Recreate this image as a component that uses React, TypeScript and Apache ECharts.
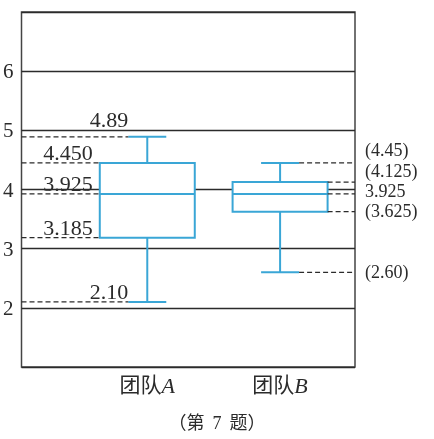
import { useEffect, useRef } from "react";
import * as echarts from "echarts";

// five-number summaries: min, Q1, median, Q3, max
const teams = ["团队A", "团队B"];
const teamA = [2.1, 3.185, 3.925, 4.45, 4.89];
const teamB = [2.6, 3.625, 3.925, 4.125, 4.45];
const labelsA = ["2.10", "3.185", "3.925", "4.450", "4.89"];
const labelsB = ["(2.60)", "(3.625)", "3.925", "(4.125)", "(4.45)"];
const yTicks = [1, 2, 3, 4, 5, 6, 7];
const caption = ["（第", "7", "题）"];

const BLUE = "#3aa6d6";
const INK = "#2b2b2b";
const SERIF = "'Liberation Serif', 'Noto Sans CJK SC', serif";
const BOX_HALF = 47.5;
const CAP_HALF = 19;
// small vertical nudges so the labels don't collide
const dyA = [0, 0, 0, 0, -7];
const dyB = [0, -1, -3, -11, -13];

const boxData = [teamA, teamB].map((s, i) => [i + 1, ...s]);
const noteData = [
  ...teamA.map((v, i) => [1, v, i, 0]),
  ...teamB.map((v, i) => [2, v, i, 1]),
];

export default function App() {
  const ref = useRef<HTMLDivElement | null>(null);

  useEffect(() => {
    if (!ref.current) return;
    const chart = echarts.init(ref.current, null, { renderer: "svg" });

    chart.setOption({
      animation: false,
      title: {
        text: `{p|${caption[0]}}{n|${caption[1]}}{p|${caption[2]}}`,
        left: "center",
        top: 409,
        textStyle: {
          fontWeight: "normal",
          rich: {
            p: { fontFamily: SERIF, fontSize: 18, fontWeight: "normal", color: INK },
            n: { fontFamily: SERIF, fontSize: 18, fontWeight: "normal", color: INK, padding: [0, 8] },
          },
        },
      },
      grid: {
        left: 21,
        top: 12,
        width: 334,
        height: 355,
        show: true,
        borderColor: "#444",
        borderWidth: 1.5,
      },
      xAxis: {
        type: "value",
        min: 0.053,
        max: 2.564,
        axisLine: { show: false },
        axisTick: { show: false },
        splitLine: { show: false },
        axisLabel: {
          customValues: [1, 2],
          margin: 7,
          formatter: (v: number) => {
            const t = teams[Math.round(v) - 1] ?? "";
            return `{c|${t.slice(0, 2)}}{i|${t.slice(2)}}`;
          },
          rich: {
            c: { fontFamily: SERIF, fontSize: 21, color: INK },
            i: { fontFamily: SERIF, fontSize: 22, fontStyle: "italic", color: INK },
          },
        },
      },
      yAxis: {
        type: "value",
        min: yTicks[0],
        max: yTicks[yTicks.length - 1],
        interval: 1,
        axisLine: { show: false },
        axisTick: { show: false },
        splitLine: { lineStyle: { color: INK, width: 1.4 } },
        axisLabel: {
          margin: 8,
          fontFamily: SERIF,
          fontSize: 21,
          color: INK,
          formatter: (v: number) => (v === yTicks[0] || v === yTicks[yTicks.length - 1] ? "" : String(v)),
        },
      },
      series: [
        {
          type: "custom",
          data: boxData,
          z: 3,
          renderItem: (_p: any, api: any) => {
            const x = api.value(0);
            const [lo, q1, med, q3, hi] = [1, 2, 3, 4, 5].map((d) => api.value(d));
            const cx = api.coord([x, med])[0];
            const y = (v: number) => api.coord([x, v])[1];
            const st = { stroke: BLUE, lineWidth: 2, fill: "none" };
            return {
              type: "group",
              children: [
                { type: "line", shape: { x1: cx, y1: y(hi), x2: cx, y2: y(q3) }, style: st },
                { type: "line", shape: { x1: cx, y1: y(q1), x2: cx, y2: y(lo) }, style: st },
                { type: "line", shape: { x1: cx - CAP_HALF, y1: y(hi), x2: cx + CAP_HALF, y2: y(hi) }, style: st },
                { type: "line", shape: { x1: cx - CAP_HALF, y1: y(lo), x2: cx + CAP_HALF, y2: y(lo) }, style: st },
                {
                  type: "rect",
                  shape: { x: cx - BOX_HALF, y: y(q3), width: BOX_HALF * 2, height: y(q1) - y(q3) },
                  style: { stroke: BLUE, lineWidth: 2, fill: "#fff" },
                },
                { type: "line", shape: { x1: cx - BOX_HALF, y1: y(med), x2: cx + BOX_HALF, y2: y(med) }, style: st },
              ],
            };
          },
        },
        {
          type: "custom",
          data: noteData,
          clip: false,
          z: 4,
          renderItem: (params: any, api: any) => {
            const x = api.value(0);
            const v = api.value(1);
            const idx = api.value(2);
            const side = api.value(3);
            const pt = api.coord([x, v]);
            const cs = params.coordSys;
            const half = idx === 0 || idx === 4 ? CAP_HALF : BOX_HALF;
            const dash = { stroke: INK, lineWidth: 1.2, lineDash: [5, 3] };
            if (side === 0) {
              const end = pt[0] - half;
              return {
                type: "group",
                children: [
                  { type: "line", shape: { x1: cs.x, y1: pt[1], x2: end, y2: pt[1] }, style: dash },
                  {
                    type: "text",
                    x: half === CAP_HALF ? end : end - 7,
                    y: pt[1] + 1 + dyA[idx],
                    style: {
                      text: labelsA[idx],
                      fontFamily: SERIF,
                      fontSize: 22,
                      fill: INK,
                      align: "right",
                      verticalAlign: "bottom",
                    },
                  },
                ],
              };
            }
            const start = pt[0] + half;
            return {
              type: "group",
              children: [
                { type: "line", shape: { x1: start, y1: pt[1], x2: cs.x + cs.width, y2: pt[1] }, style: dash },
                {
                  type: "text",
                  x: cs.x + cs.width + 10,
                  y: pt[1] + dyB[idx],
                  style: {
                    text: labelsB[idx],
                    fontFamily: SERIF,
                    fontSize: 18,
                    lineHeight: 15,
                    fill: INK,
                    align: "left",
                    verticalAlign: "middle",
                  },
                },
              ],
            };
          },
        },
      ],
    });

    return () => chart.dispose();
  }, []);

  return <div ref={ref} style={{ position: "fixed", left: 0, top: 0, width: 434, height: 439 }} />;
}
